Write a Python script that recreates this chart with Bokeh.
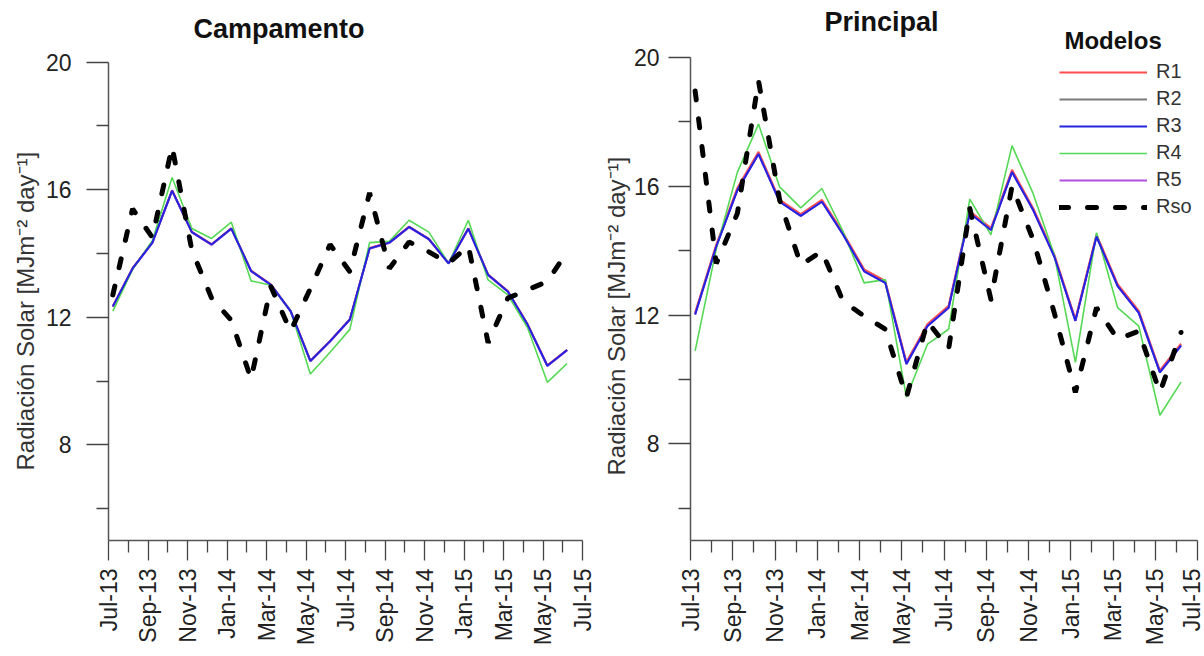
from math import pi
from bokeh.plotting import figure
from bokeh.models import Range1d, FixedTicker, Legend, LegendItem, Label, Title
from bokeh.layouts import row
from bokeh.embed import file_html
from bokeh.resources import INLINE

# ---------------- data ----------------
months = ["Jul-13", "Aug-13", "Sep-13", "Oct-13", "Nov-13", "Dec-13",
          "Jan-14", "Feb-14", "Mar-14", "Apr-14", "May-14", "Jun-14",
          "Jul-14", "Aug-14", "Sep-14", "Oct-14", "Nov-14", "Dec-14",
          "Jan-15", "Feb-15", "Mar-15", "Apr-15", "May-15", "Jun-15"]
tick_labels = ["Jul-13", "Sep-13", "Nov-13", "Jan-14", "Mar-14", "May-14", "Jul-14",
               "Sep-14", "Nov-14", "Jan-15", "Mar-15", "May-15", "Jul-15"]
y_ticks = [8, 12, 16, 20]
y_minor = [6, 10, 14, 18]

camp_R1 = [12.35, 13.54, 14.35, 15.98, 14.68, 14.29, 14.79, 13.46, 13.03, 12.20, 10.64, 11.26,
           11.94, 14.17, 14.35, 14.84, 14.46, 13.70, 14.79, 13.34, 12.82, 11.78, 10.49, 10.98]
camp_R2 = [12.34, 13.53, 14.34, 15.97, 14.67, 14.28, 14.78, 13.45, 13.02, 12.19, 10.63, 11.25,
           11.93, 14.16, 14.34, 14.83, 14.45, 13.69, 14.78, 13.33, 12.81, 11.77, 10.48, 10.97]
camp_R3 = [12.34, 13.53, 14.34, 15.97, 14.67, 14.28, 14.78, 13.45, 13.02, 12.19, 10.63, 11.25,
           11.93, 14.16, 14.34, 14.83, 14.45, 13.69, 14.78, 13.33, 12.81, 11.77, 10.48, 10.97]
camp_R4 = [12.19, 13.50, 14.40, 16.38, 14.78, 14.47, 14.98, 13.14, 13.00, 12.20, 10.22, 10.90,
           11.62, 14.34, 14.38, 15.04, 14.67, 13.69, 15.04, 13.17, 12.70, 11.67, 9.96, 10.55]
camp_R5 = [12.33, 13.52, 14.33, 15.96, 14.66, 14.27, 14.77, 13.44, 13.01, 12.18, 10.62, 11.24,
           11.92, 14.15, 14.33, 14.82, 14.44, 13.68, 14.77, 13.32, 12.80, 11.76, 10.47, 10.96]
camp_Rso = [12.70, 15.40, 14.50, 17.35, 14.10, 12.60, 11.90, 10.06, 12.96, 11.56, 12.90, 14.28,
            13.43, 15.90, 13.53, 14.36, 14.05, 13.69, 14.24, 11.20, 12.60, 12.86, 13.12, 14.05]

prin_R1 = [12.08, 14.19, 15.95, 17.07, 15.58, 15.14, 15.58, 14.56, 13.42, 13.06, 10.54, 11.72,
           12.29, 15.22, 14.70, 16.51, 15.32, 13.88, 11.88, 14.50, 12.96, 12.13, 10.28, 11.11]
prin_R2 = [12.04, 14.15, 15.90, 17.02, 15.54, 15.10, 15.54, 14.52, 13.38, 13.02, 10.50, 11.68,
           12.25, 15.18, 14.66, 16.46, 15.28, 13.84, 11.84, 14.46, 12.92, 12.09, 10.24, 11.07]
prin_R3 = [12.02, 14.13, 15.88, 17.00, 15.52, 15.08, 15.52, 14.50, 13.36, 13.00, 10.48, 11.66,
           12.23, 15.16, 14.64, 16.44, 15.26, 13.82, 11.82, 14.44, 12.90, 12.07, 10.22, 11.05]
prin_R4 = [10.89, 14.05, 16.44, 17.93, 15.98, 15.33, 15.93, 14.60, 13.00, 13.10, 9.45, 11.10,
           11.56, 15.60, 14.49, 17.26, 15.77, 13.87, 10.53, 14.56, 12.23, 11.66, 8.89, 9.92]
prin_R5 = [12.02, 14.13, 15.88, 17.00, 15.52, 15.08, 15.52, 14.50, 13.36, 13.00, 10.48, 11.66,
           12.23, 15.16, 14.64, 16.44, 15.26, 13.82, 11.82, 14.44, 12.90, 12.07, 10.22, 11.05]
prin_Rso = [18.96, 13.60, 15.16, 19.27, 15.57, 13.56, 13.98, 12.43, 11.97, 11.56, 9.45, 11.80,
            10.95, 15.31, 12.49, 16.00, 14.34, 12.07, 9.60, 12.23, 11.25, 11.50, 9.60, 11.46]

# ---------------- styling ----------------
FONT = "Liberation Sans"
C_R1, C_R2, C_R3, C_R4, C_R5 = "#ff4d4d", "#7a7a7a", "#2323e0", "#55d955", "#b04fe0"
day_offset = 0.22  # observations sit a few days into each month
xs = [i + day_offset for i in range(len(months))]
Y_LO, Y_HI = 5, 20
Y_LABEL = "Radiación Solar [MJm⁻² day⁻¹]"


def make_fig(width, b_left, b_right, b_bottom, y_top, lab_stand, ylab_offset, ylab_stand):
    p = figure(width=width, height=656, x_range=Range1d(0, 24), y_range=Range1d(Y_LO, y_top),
               output_backend="svg", toolbar_location=None,
               min_border_left=b_left, min_border_right=b_right,
               min_border_top=8, min_border_bottom=b_bottom)
    p.grid.visible = False
    p.outline_line_color = None
    p.background_fill_color = "white"

    xa = p.xaxis[0]
    xa.ticker = FixedTicker(ticks=list(range(0, 25, 2)), minor_ticks=list(range(1, 24, 2)))
    xa.major_label_overrides = {2 * i: lab for i, lab in enumerate(tick_labels)}
    xa.major_label_orientation = pi / 2
    ya = p.yaxis[0]
    ya.ticker = FixedTicker(ticks=y_ticks, minor_ticks=y_minor)
    ya.bounds = (Y_LO, Y_HI)
    for ax in (xa, ya):
        ax.axis_line_color = "#555555"
        ax.axis_line_width = 1.5
        ax.major_tick_line_color = "#444444"
        ax.minor_tick_line_color = "#444444"
        ax.major_tick_line_width = 1.3
        ax.minor_tick_line_width = 1.3
        ax.major_tick_in = 0
        ax.minor_tick_in = 0
        ax.major_label_text_font = FONT
        ax.major_label_text_font_size = "23px"
        ax.major_label_text_color = "#222222"
    xa.major_tick_out = 20
    xa.minor_tick_out = 12
    xa.major_label_standoff = 8
    ya.major_tick_out = 22
    ya.minor_tick_out = 12
    ya.major_label_standoff = lab_stand
    # y-axis title placed along the axis (offset from the frame bottom)
    p.add_layout(Title(text=Y_LABEL, align="left", offset=ylab_offset, standoff=ylab_stand,
                       text_font=FONT, text_font_size="24px", text_font_style="normal",
                       text_color="#333333"), "left")
    return p


def add_text(p, txt, x, y, size):
    p.add_layout(Label(x=x, y=y, text=txt, text_font=FONT, text_font_size=size,
                       text_font_style="bold", text_color="#111111",
                       text_align="left", text_baseline="middle"))


def draw(p, r1, r2, r3, r4, r5, rso):
    g2 = p.line(xs, r2, color=C_R2, line_width=2)
    g1 = p.line(xs, r1, color=C_R1, line_width=2)
    g5 = p.line(xs, r5, color=C_R5, line_width=2)
    g4 = p.line(xs, r4, color=C_R4, line_width=1.6)
    g3 = p.line(xs, r3, color=C_R3, line_width=2)
    gs = p.line(xs, rso, color="black", line_width=5, line_dash="9 19", line_cap="round")
    return g1, g2, g3, g4, g5, gs


# left panel: frame 108..582 px, y=20 at 62 px
p1 = make_fig(596, 108, 14, 111, 21.68, 15, 70, 8)
draw(p1, camp_R1, camp_R2, camp_R3, camp_R4, camp_R5, camp_Rso)
add_text(p1, "Campamento", 4.3, 21.05, "27px")

# right panel: frame 690..1197 px, y=20 at 57 px
p2 = make_fig(608, 94, 7, 116, 21.52, 9, 65, 1)
g1, g2, g3, g4, g5, gs = draw(p2, prin_R1, prin_R2, prin_R3, prin_R4, prin_R5, prin_Rso)
add_text(p2, "Principal", 6.34, 21.1, "27px")
add_text(p2, "Modelos", 17.7, 20.53, "24px")

legend = Legend(items=[LegendItem(label="R1", renderers=[g1]),
                       LegendItem(label="R2", renderers=[g2]),
                       LegendItem(label="R3", renderers=[g3]),
                       LegendItem(label="R4", renderers=[g4]),
                       LegendItem(label="R5", renderers=[g5]),
                       LegendItem(label="Rso", renderers=[gs])],
                location=(369, 322),
                label_text_font=FONT, label_text_font_size="20px", label_text_color="#333333",
                glyph_width=88, glyph_height=20, label_height=20, label_standoff=9, spacing=4,
                padding=0, margin=0, border_line_color=None, background_fill_alpha=0)
p2.add_layout(legend)

layout = row(p1, p2)
open("out.html", "w").write(file_html(layout, INLINE))
